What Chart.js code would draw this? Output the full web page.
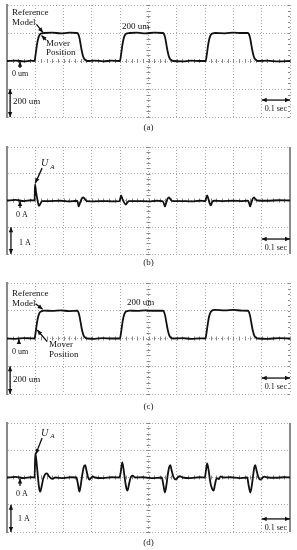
<!DOCTYPE html>
<html>
<head>
<meta charset="utf-8">
<script src="https://cdn.jsdelivr.net/npm/chart.js@4.4.1/dist/chart.umd.min.js"></script>
<style>
  body { margin: 0; width: 297px; height: 550px; background: #fff; position: relative; overflow: hidden;
         font-family: "Liberation Serif", "DejaVu Serif", serif; }
  canvas { position: absolute; left: 0; }
  .cap { position: absolute; left: 0; width: 297px; text-align: center; font-size: 9px; line-height: 10px; color: #222; }
</style>
</head>
<body>
<canvas id="chartA" width="297" height="140" style="top:0px"></canvas>
<canvas id="chartB" width="297" height="135" style="top:140px"></canvas>
<canvas id="chartC" width="297" height="135" style="top:275px"></canvas>
<canvas id="chartD" width="297" height="140" style="top:410px"></canvas>
<div class="cap" style="top:122px">(a)</div>
<div class="cap" style="top:257px">(b)</div>
<div class="cap" style="top:401px">(c)</div>
<div class="cap" style="top:537px">(d)</div>

<script>
// (a) position, um
const timeA = [
    0.000, 0.030, 0.060, 0.085,
    0.097, 0.101, 0.105, 0.109, 0.113, 0.117, 0.123, 0.130,
    0.160, 0.190, 0.220,
    0.248, 0.252, 0.256, 0.260, 0.264, 0.268, 0.272, 0.278, 0.285,
    0.310, 0.340, 0.370,
    0.399, 0.403, 0.407, 0.411, 0.415, 0.419, 0.425, 0.432,
    0.460, 0.490, 0.520,
    0.551, 0.555, 0.559, 0.563, 0.567, 0.571, 0.575, 0.581, 0.588,
    0.620, 0.650, 0.680,
    0.702, 0.706, 0.710, 0.714, 0.718, 0.722, 0.728, 0.735,
    0.770, 0.800, 0.830,
    0.851, 0.855, 0.859, 0.863, 0.867, 0.871, 0.875, 0.881, 0.888,
    0.920, 0.960, 1.000];
const posA = [
    0, 3, -3, 2,
    0, 45, 105, 150, 178, 192, 198, 200,
    203, 197, 202,
    200, 192, 165, 120, 75, 40, 18, 5, 0,
    3, -2, 2,
    0, 45, 105, 150, 178, 192, 198, 200,
    202, 197, 203,
    200, 192, 165, 120, 75, 40, 18, 5, 0,
    -3, 2, 0,
    0, 45, 105, 150, 178, 192, 198, 200,
    198, 203, 200,
    200, 192, 165, 120, 75, 40, 18, 5, 0,
    2, -3, 0];

// (b) current, A
const timeB = [
    0.000, 0.030, 0.060, 0.085, 0.0975,
    0.0990, 0.1030, 0.1080, 0.1130, 0.1180, 0.1240,
    0.150, 0.190, 0.220, 0.246,
    0.2500, 0.2530, 0.2590, 0.2650, 0.2700, 0.2760, 0.2820,
    0.310, 0.340, 0.370, 0.397,
    0.4000, 0.4030, 0.4080, 0.4140, 0.4200, 0.4260, 0.4320,
    0.460, 0.500, 0.530, 0.549,
    0.5530, 0.5580, 0.5630, 0.5680, 0.5720, 0.5780, 0.5850,
    0.610, 0.650, 0.680, 0.700,
    0.7030, 0.7070, 0.7120, 0.7160, 0.7200, 0.7250, 0.7320,
    0.760, 0.800, 0.830, 0.851,
    0.8550, 0.8590, 0.8640, 0.8690, 0.8730, 0.8790, 0.8860,
    0.920, 0.960, 1.000];
const curB = [
    0, 0.02, -0.02, 0.01, 0,
    0.60, 0.30, 0.00, -0.20, -0.12, -0.02,
    -0.02, -0.01, -0.03, -0.01,
    -0.06, -0.22, -0.06, 0.08, 0.12, 0.04, -0.02,
    -0.03, -0.02, -0.03, -0.02,
    0.06, 0.19, 0.06, -0.08, -0.15, -0.06, -0.02,
    -0.02, -0.03, -0.01, -0.02,
    -0.08, -0.22, -0.07, 0.08, 0.12, 0.04, -0.02,
    -0.02, -0.03, -0.01, -0.02,
    0.06, 0.19, 0.05, -0.10, -0.18, -0.06, -0.01,
    -0.02, -0.01, -0.02, -0.01,
    -0.08, -0.22, -0.06, 0.08, 0.12, 0.03, 0,
    -0.01, 0.01, 0];

// (c) position, um
const timeC = [
    0.000, 0.030, 0.060, 0.085,
    0.097, 0.101, 0.105, 0.109, 0.113, 0.117, 0.123, 0.130,
    0.160, 0.190, 0.220,
    0.248, 0.252, 0.256, 0.260, 0.264, 0.268, 0.272, 0.278, 0.285,
    0.310, 0.340, 0.370,
    0.399, 0.403, 0.407, 0.411, 0.415, 0.419, 0.425, 0.432,
    0.460, 0.490, 0.520,
    0.551, 0.555, 0.559, 0.563, 0.567, 0.571, 0.575, 0.581, 0.588,
    0.620, 0.650, 0.680,
    0.701, 0.705, 0.709, 0.713, 0.717, 0.721, 0.727, 0.734,
    0.770, 0.800, 0.830,
    0.851, 0.855, 0.859, 0.863, 0.867, 0.871, 0.875, 0.881, 0.888,
    0.920, 0.960, 1.000];
const posC = [
    0, -2, 3, 1,
    0, 40, 100, 148, 176, 191, 197, 201,
    199, 202, 198,
    200, 191, 163, 118, 72, 38, 16, 4, 0,
    -2, 3, 0,
    0, 42, 102, 149, 177, 192, 198, 201,
    199, 203, 200,
    200, 191, 163, 118, 72, 38, 16, 4, 0,
    2, -2, 1,
    0, 40, 98, 148, 178, 194, 204, 206,
    203, 206, 201,
    200, 191, 163, 118, 72, 38, 16, 4, 0,
    -2, 2, 0];

// (d) current, A
const timeD = [
    0.000, 0.030, 0.060, 0.085, 0.0975,
    0.1000, 0.1040, 0.1090, 0.1130, 0.1170, 0.1220, 0.1280, 0.1350, 0.1410, 0.1480, 0.1550, 0.1620, 0.1700,
    0.200, 0.225, 0.245,
    0.2500, 0.2560, 0.2610, 0.2660, 0.2710, 0.2760, 0.2810, 0.2860, 0.2910, 0.2970, 0.3030, 0.3100,
    0.340, 0.370, 0.397,
    0.4020, 0.4070, 0.4120, 0.4170, 0.4220, 0.4260, 0.4310, 0.4370, 0.4440, 0.4520,
    0.480, 0.510, 0.547,
    0.5530, 0.5580, 0.5630, 0.5680, 0.5730, 0.5770, 0.5820, 0.5880, 0.5960, 0.6030, 0.6100, 0.6200,
    0.650, 0.680, 0.699,
    0.7030, 0.7070, 0.7120, 0.7180, 0.7250, 0.7300, 0.7350, 0.7410, 0.7480, 0.7550, 0.7650,
    0.790, 0.820, 0.849,
    0.8540, 0.8600, 0.8650, 0.8700, 0.8740, 0.8770, 0.8820, 0.8880, 0.8950, 0.9020, 0.9100, 0.9200,
    0.950, 0.980, 1.000];
const curD = [
    0, 0.02, -0.02, 0.01, 0,
    0.89, 0.60, 0.05, -0.35, -0.52, -0.35, -0.05, 0.12, 0.15, 0.05, -0.03, -0.05, 0,
    -0.02, 0.01, 0,
    -0.20, -0.52, -0.25, 0.10, 0.38, 0.45, 0.25, 0.02, -0.08, -0.02, 0.04, 0,
    -0.02, 0.01, 0,
    0.20, 0.55, 0.30, -0.10, -0.40, -0.48, -0.25, 0.00, 0.07, 0,
    0.01, -0.02, 0,
    -0.30, -0.55, -0.30, 0.10, 0.38, 0.45, 0.25, 0.02, -0.07, 0.00, 0.05, 0,
    -0.02, 0.01, 0,
    0.25, 0.52, 0.30, -0.15, -0.42, -0.48, -0.25, -0.02, -0.06, 0.04, 0,
    0.01, -0.02, 0,
    -0.30, -0.55, -0.30, 0.10, 0.38, 0.45, 0.25, 0.02, -0.08, -0.02, 0.03, 0,
    -0.01, 0.01, 0];

// labels and arrows, placed in data units (t sec, value)
const notesA = [
    { text: 'Reference', t: 0.018, v: 343 },
    { text: 'Model', t: 0.018, v: 271 },
    { arrow: [0.104, 261, 0.127, 204] },
    { text: 'Mover', t: 0.138, v: 121 },
    { text: 'Position', t: 0.138, v: 57 },
    { arrow: [0.138, 150, 0.122, 182] },
    { text: '200 um', t: 0.406, v: 243 },
    { arrow: [0.046, -50, 0.046, -5] },
    { text: '0 um', t: 0.018, v: -93, size: 8 },
    { arrow: [0.011, -200, 0.011, -400], both: true },
    { text: '200 um', t: 0.021, v: -293 },
    { arrow: [0.9, -279, 1.0, -279], both: true },
    { text: '0.1 sec', t: 0.95, v: -343, align: 'center', size: 8 }
];
const notesB = [
    { text: 'U', t: 0.12, v: 1.40, italic: true, size: 10 },
    { text: 'A', t: 0.153, v: 1.26, italic: true, size: 7 },
    { arrow: [0.124, 1.21, 0.1, 0.65] },
    { arrow: [0.046, -0.28, 0.046, -0.02] },
    { text: '0 A', t: 0.032, v: -0.54, size: 8 },
    { arrow: [0.014, -1, 0.014, -2], both: true },
    { text: '1 A', t: 0.042, v: -1.59, size: 8 },
    { arrow: [0.9, -1.44, 1.0, -1.44], both: true },
    { text: '0.1 sec', t: 0.95, v: -1.78, align: 'center', size: 8 }
];
const notesC = [
    { text: 'Reference', t: 0.018, v: 321 },
    { text: 'Model', t: 0.018, v: 249 },
    { arrow: [0.101, 250, 0.126, 210] },
    { text: 'Mover', t: 0.148, v: -47 },
    { text: 'Position', t: 0.148, v: -119 },
    { arrow: [0.142, -23, 0.107, 61] },
    { text: '200 um', t: 0.424, v: 256 },
    { arrow: [0.042, -35, 0.042, -3] },
    { text: '0 um', t: 0.018, v: -97, size: 8 },
    { arrow: [0.011, -200, 0.011, -400], both: true },
    { text: '200 um', t: 0.021, v: -299 },
    { arrow: [0.9, -285, 1.0, -285], both: true },
    { text: '0.1 sec', t: 0.95, v: -350, align: 'center', size: 8 }
];
const notesD = [
    { text: 'U', t: 0.12, v: 1.63, italic: true, size: 10 },
    { text: 'A', t: 0.153, v: 1.50, italic: true, size: 7 },
    { arrow: [0.124, 1.45, 0.102, 0.86] },
    { arrow: [0.046, -0.31, 0.046, -0.04] },
    { text: '0 A', t: 0.032, v: -0.61, size: 8 },
    { arrow: [0.014, -1, 0.014, -2], both: true },
    { text: '1 A', t: 0.039, v: -1.52, size: 8 },
    { arrow: [0.9, -1.52, 1.0, -1.52], both: true },
    { text: '0.1 sec', t: 0.95, v: -1.85, align: 'center', size: 8 }
];

function arrowHead(ctx, x1, y1, x2, y2) {
    const a = Math.atan2(y2 - y1, x2 - x1), L = 5, W = 2.2;
    ctx.beginPath();
    ctx.moveTo(x2, y2);
    ctx.lineTo(x2 - L * Math.cos(a) + W * Math.sin(a), y2 - L * Math.sin(a) - W * Math.cos(a));
    ctx.lineTo(x2 - L * Math.cos(a) - W * Math.sin(a), y2 - L * Math.sin(a) + W * Math.cos(a));
    ctx.closePath();
    ctx.fill();
}

// scope decorations: minor ticks on the centre cross, right edge, notes
const scopePlugin = {
    id: 'scope',
    beforeDatasetsDraw(chart, args, opts) {
        const { ctx, chartArea: area, scales: { x, y } } = chart;
        const y0 = y.getPixelForValue(0);
        const xc = x.getPixelForValue(0.5);
        const step = opts.yStep / 5;
        ctx.save();
        ctx.strokeStyle = '#888';
        ctx.lineWidth = 1;
        ctx.beginPath();
        for (let i = 0; i <= 50; i++) {
            const px = Math.round(x.getPixelForValue(i * 0.02)) + 0.5;
            ctx.moveTo(px, y0 - 2); ctx.lineTo(px, y0 + 2);
        }
        for (let i = -10; i <= 10; i++) {
            const py = Math.round(y.getPixelForValue(i * step)) + 0.5;
            ctx.moveTo(xc - 2, py); ctx.lineTo(xc + 2, py);
            if (!opts.solidRight) { ctx.moveTo(area.right - 2, py); ctx.lineTo(area.right, py); }
        }
        ctx.stroke();
        if (opts.solidRight) {
            ctx.strokeStyle = '#8a8a8a';
            ctx.lineWidth = 2;
            ctx.beginPath();
            ctx.moveTo(area.right, area.top); ctx.lineTo(area.right, area.bottom);
            ctx.stroke();
        }
        ctx.restore();
    },
    afterDatasetsDraw(chart, args, opts) {
        const { ctx, scales: { x, y } } = chart;
        ctx.save();
        ctx.fillStyle = '#111';
        ctx.strokeStyle = '#111';
        ctx.lineWidth = 1.3;
        ctx.textBaseline = 'middle';
        opts.notes.forEach(n => {
            if (n.arrow) {
                const [t1, v1, t2, v2] = n.arrow;
                const x1 = x.getPixelForValue(t1), y1 = y.getPixelForValue(v1);
                const x2 = x.getPixelForValue(t2), y2 = y.getPixelForValue(v2);
                ctx.beginPath(); ctx.moveTo(x1, y1); ctx.lineTo(x2, y2); ctx.stroke();
                arrowHead(ctx, x1, y1, x2, y2);
                if (n.both) arrowHead(ctx, x2, y2, x1, y1);
            } else {
                ctx.font = (n.italic ? 'italic ' : '') + (n.size || 9) + 'px "Liberation Serif", serif';
                ctx.textAlign = n.align || 'left';
                ctx.fillText(n.text, x.getPixelForValue(n.t), y.getPixelForValue(n.v));
            }
        });
        ctx.restore();
    }
};

function scopeChart(id, time, values, yMax, yStep, pad, solidRight, notes) {
    const ctx = document.getElementById(id).getContext('2d');
    return new Chart(ctx, {
        type: 'line',
        data: {
            datasets: [{
                data: time.map((t, i) => ({ x: t, y: values[i] })),
                borderColor: '#111',
                borderWidth: 1.8,
                pointRadius: 0,
                cubicInterpolationMode: 'monotone'
            }]
        },
        options: {
            responsive: false,
            animation: false,
            devicePixelRatio: 1,
            layout: { padding: { left: 7, right: 7, top: pad[0], bottom: pad[1] } },
            plugins: {
                legend: { display: false },
                tooltip: { enabled: false },
                scope: { yStep: yStep, solidRight: solidRight, notes: notes }
            },
            scales: {
                x: {
                    type: 'linear', min: 0, max: 1,
                    ticks: { display: false, stepSize: 0.1 },
                    grid: { color: '#a8a8a8', lineWidth: 1, drawTicks: false },
                    border: { display: false, dash: [1, 2] }
                },
                y: {
                    min: -yMax, max: yMax,
                    ticks: { display: false, stepSize: yStep },
                    grid: { color: '#a8a8a8', lineWidth: 1, drawTicks: false },
                    border: { display: true, color: '#8a8a8a', width: 2, dash: [1, 2] }
                }
            }
        },
        plugins: [scopePlugin]
    });
}

scopeChart('chartA', timeA, posA, 400, 200, [5, 23], false, notesA);
scopeChart('chartB', timeB, curB, 2, 1, [7, 21], true, notesB);
scopeChart('chartC', timeC, posC, 400, 200, [8, 16], false, notesC);
scopeChart('chartD', timeD, curD, 2, 1, [13, 18], true, notesD);
</script>
</body>
</html>
